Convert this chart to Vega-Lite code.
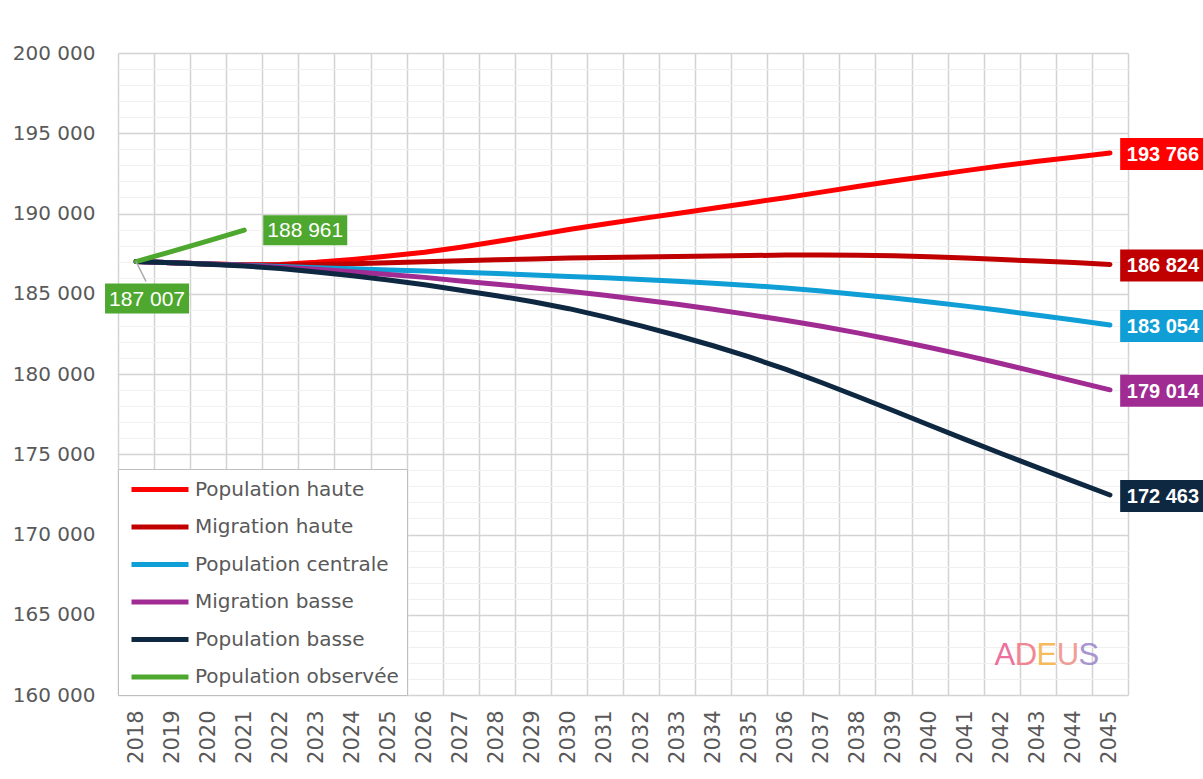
{
  "$schema": "https://vega.github.io/schema/vega-lite/v6.json",
  "autosize": {"type": "none"},
  "padding": {"left": 118, "top": 53, "right": 75, "bottom": 84},
  "width": 1010,
  "height": 642,
  "background": "white",
  "config": {
    "view": {"stroke": null},
    "locale": {"number": {"decimal": ",", "thousands": " ", "grouping": [3], "currency": ["", " €"]}},
    "axis": {"domain": false, "ticks": false, "title": null, "labelColor": "#595959", "labelFont": "DejaVu Sans"}
  },
  "datasets": {
    "pop": [
      {"series": "Population haute", "year": 2018, "value": 187007}, {"series": "Population haute", "year": 2019, "value": 186930}, {"series": "Population haute", "year": 2020, "value": 186860}, {"series": "Population haute", "year": 2021, "value": 186800}, {"series": "Population haute", "year": 2022, "value": 186830}, {"series": "Population haute", "year": 2023, "value": 186960}, {"series": "Population haute", "year": 2024, "value": 187140}, {"series": "Population haute", "year": 2025, "value": 187350}, {"series": "Population haute", "year": 2026, "value": 187590}, {"series": "Population haute", "year": 2027, "value": 187900}, {"series": "Population haute", "year": 2028, "value": 188250}, {"series": "Population haute", "year": 2029, "value": 188620}, {"series": "Population haute", "year": 2030, "value": 189000}, {"series": "Population haute", "year": 2031, "value": 189340}, {"series": "Population haute", "year": 2032, "value": 189680}, {"series": "Population haute", "year": 2033, "value": 190000}, {"series": "Population haute", "year": 2034, "value": 190330}, {"series": "Population haute", "year": 2035, "value": 190660}, {"series": "Population haute", "year": 2036, "value": 190980}, {"series": "Population haute", "year": 2037, "value": 191330}, {"series": "Population haute", "year": 2038, "value": 191680}, {"series": "Population haute", "year": 2039, "value": 192020}, {"series": "Population haute", "year": 2040, "value": 192350}, {"series": "Population haute", "year": 2041, "value": 192670}, {"series": "Population haute", "year": 2042, "value": 192970}, {"series": "Population haute", "year": 2043, "value": 193250}, {"series": "Population haute", "year": 2044, "value": 193510}, {"series": "Population haute", "year": 2045, "value": 193766},
      {"series": "Migration haute", "year": 2018, "value": 187007}, {"series": "Migration haute", "year": 2019, "value": 186930}, {"series": "Migration haute", "year": 2020, "value": 186860}, {"series": "Migration haute", "year": 2021, "value": 186800}, {"series": "Migration haute", "year": 2022, "value": 186790}, {"series": "Migration haute", "year": 2023, "value": 186820}, {"series": "Migration haute", "year": 2024, "value": 186870}, {"series": "Migration haute", "year": 2025, "value": 186930}, {"series": "Migration haute", "year": 2026, "value": 187000}, {"series": "Migration haute", "year": 2027, "value": 187060}, {"series": "Migration haute", "year": 2028, "value": 187120}, {"series": "Migration haute", "year": 2029, "value": 187170}, {"series": "Migration haute", "year": 2030, "value": 187220}, {"series": "Migration haute", "year": 2031, "value": 187260}, {"series": "Migration haute", "year": 2032, "value": 187290}, {"series": "Migration haute", "year": 2033, "value": 187320}, {"series": "Migration haute", "year": 2034, "value": 187350}, {"series": "Migration haute", "year": 2035, "value": 187380}, {"series": "Migration haute", "year": 2036, "value": 187410}, {"series": "Migration haute", "year": 2037, "value": 187420}, {"series": "Migration haute", "year": 2038, "value": 187400}, {"series": "Migration haute", "year": 2039, "value": 187360}, {"series": "Migration haute", "year": 2040, "value": 187300}, {"series": "Migration haute", "year": 2041, "value": 187220}, {"series": "Migration haute", "year": 2042, "value": 187130}, {"series": "Migration haute", "year": 2043, "value": 187040}, {"series": "Migration haute", "year": 2044, "value": 186940}, {"series": "Migration haute", "year": 2045, "value": 186824},
      {"series": "Population centrale", "year": 2018, "value": 187007}, {"series": "Population centrale", "year": 2019, "value": 186930}, {"series": "Population centrale", "year": 2020, "value": 186860}, {"series": "Population centrale", "year": 2021, "value": 186780}, {"series": "Population centrale", "year": 2022, "value": 186700}, {"series": "Population centrale", "year": 2023, "value": 186620}, {"series": "Population centrale", "year": 2024, "value": 186550}, {"series": "Population centrale", "year": 2025, "value": 186480}, {"series": "Population centrale", "year": 2026, "value": 186410}, {"series": "Population centrale", "year": 2027, "value": 186340}, {"series": "Population centrale", "year": 2028, "value": 186260}, {"series": "Population centrale", "year": 2029, "value": 186170}, {"series": "Population centrale", "year": 2030, "value": 186080}, {"series": "Population centrale", "year": 2031, "value": 185990}, {"series": "Population centrale", "year": 2032, "value": 185890}, {"series": "Population centrale", "year": 2033, "value": 185780}, {"series": "Population centrale", "year": 2034, "value": 185660}, {"series": "Population centrale", "year": 2035, "value": 185520}, {"series": "Population centrale", "year": 2036, "value": 185360}, {"series": "Population centrale", "year": 2037, "value": 185170}, {"series": "Population centrale", "year": 2038, "value": 184960}, {"series": "Population centrale", "year": 2039, "value": 184730}, {"series": "Population centrale", "year": 2040, "value": 184490}, {"series": "Population centrale", "year": 2041, "value": 184230}, {"series": "Population centrale", "year": 2042, "value": 183950}, {"series": "Population centrale", "year": 2043, "value": 183660}, {"series": "Population centrale", "year": 2044, "value": 183360}, {"series": "Population centrale", "year": 2045, "value": 183054},
      {"series": "Migration basse", "year": 2018, "value": 187007}, {"series": "Migration basse", "year": 2019, "value": 186930}, {"series": "Migration basse", "year": 2020, "value": 186850}, {"series": "Migration basse", "year": 2021, "value": 186760}, {"series": "Migration basse", "year": 2022, "value": 186650}, {"series": "Migration basse", "year": 2023, "value": 186520}, {"series": "Migration basse", "year": 2024, "value": 186370}, {"series": "Migration basse", "year": 2025, "value": 186200}, {"series": "Migration basse", "year": 2026, "value": 186020}, {"series": "Migration basse", "year": 2027, "value": 185800}, {"series": "Migration basse", "year": 2028, "value": 185590}, {"series": "Migration basse", "year": 2029, "value": 185380}, {"series": "Migration basse", "year": 2030, "value": 185150}, {"series": "Migration basse", "year": 2031, "value": 184900}, {"series": "Migration basse", "year": 2032, "value": 184630}, {"series": "Migration basse", "year": 2033, "value": 184340}, {"series": "Migration basse", "year": 2034, "value": 184030}, {"series": "Migration basse", "year": 2035, "value": 183700}, {"series": "Migration basse", "year": 2036, "value": 183350}, {"series": "Migration basse", "year": 2037, "value": 182970}, {"series": "Migration basse", "year": 2038, "value": 182560}, {"series": "Migration basse", "year": 2039, "value": 182120}, {"series": "Migration basse", "year": 2040, "value": 181650}, {"series": "Migration basse", "year": 2041, "value": 181160}, {"series": "Migration basse", "year": 2042, "value": 180640}, {"series": "Migration basse", "year": 2043, "value": 180100}, {"series": "Migration basse", "year": 2044, "value": 179560}, {"series": "Migration basse", "year": 2045, "value": 179014},
      {"series": "Population basse", "year": 2018, "value": 187007}, {"series": "Population basse", "year": 2019, "value": 186930}, {"series": "Population basse", "year": 2020, "value": 186840}, {"series": "Population basse", "year": 2021, "value": 186730}, {"series": "Population basse", "year": 2022, "value": 186570}, {"series": "Population basse", "year": 2023, "value": 186350}, {"series": "Population basse", "year": 2024, "value": 186120}, {"series": "Population basse", "year": 2025, "value": 185860}, {"series": "Population basse", "year": 2026, "value": 185560}, {"series": "Population basse", "year": 2027, "value": 185220}, {"series": "Population basse", "year": 2028, "value": 184880}, {"series": "Population basse", "year": 2029, "value": 184500}, {"series": "Population basse", "year": 2030, "value": 184070}, {"series": "Population basse", "year": 2031, "value": 183560}, {"series": "Population basse", "year": 2032, "value": 183000}, {"series": "Population basse", "year": 2033, "value": 182400}, {"series": "Population basse", "year": 2034, "value": 181760}, {"series": "Population basse", "year": 2035, "value": 181060}, {"series": "Population basse", "year": 2036, "value": 180300}, {"series": "Population basse", "year": 2037, "value": 179470}, {"series": "Population basse", "year": 2038, "value": 178600}, {"series": "Population basse", "year": 2039, "value": 177710}, {"series": "Population basse", "year": 2040, "value": 176810}, {"series": "Population basse", "year": 2041, "value": 175910}, {"series": "Population basse", "year": 2042, "value": 175030}, {"series": "Population basse", "year": 2043, "value": 174170}, {"series": "Population basse", "year": 2044, "value": 173310}, {"series": "Population basse", "year": 2045, "value": 172463},
      {"series": "Population observée", "year": 2018, "value": 187007}, {"series": "Population observée", "year": 2019, "value": 187640}, {"series": "Population observée", "year": 2020, "value": 188300}, {"series": "Population observée", "year": 2021, "value": 188961}
    ]
  },
  "data": {"name": "pop"},
  "encoding": {
    "x": {"field": "year", "type": "ordinal", "bandPosition": 0.5,
      "scale": {"type": "band", "paddingInner": 0, "paddingOuter": 0},
      "axis": {"tickBand": "extent", "grid": true, "gridColor": "#D3D3D3", "gridWidth": 1.5, "labelAngle": 270, "labelFontSize": 21, "labelPadding": 15}},
    "y": {"field": "value", "type": "quantitative",
      "scale": {"domain": [160000, 200000], "nice": false, "zero": false},
      "axis": {"values": [160000,161000,162000,163000,164000,165000,166000,167000,168000,169000,170000,171000,172000,173000,174000,175000,176000,177000,178000,179000,180000,181000,182000,183000,184000,185000,186000,187000,188000,189000,190000,191000,192000,193000,194000,195000,196000,197000,198000,199000,200000],
        "labelExpr": "datum.value % 5000 === 0 ? format(datum.value, ',d') : ''",
        "labelFontSize": 20, "labelPadding": 23,
        "grid": true,
        "gridColor": {"condition": {"test": "datum.value % 5000 === 0", "value": "#D3D3D3"}, "value": "#F0F0F0"},
        "gridWidth": {"condition": {"test": "datum.value % 5000 === 0", "value": 1.5}, "value": 1}}}
  },
  "layer": [
    {
      "mark": {"type": "line", "strokeWidth": 5, "strokeCap": "round", "strokeJoin": "round"},
      "encoding": {
        "color": {"field": "series", "type": "nominal",
          "scale": {"domain": ["Population haute", "Migration haute", "Population centrale", "Migration basse", "Population basse", "Population observée"],
                    "range": ["#FF0000", "#C00000", "#0F9ED5", "#A02B93", "#0E2841", "#4EA72E"]},
          "legend": {"title": null, "orient": "bottom-left", "offset": 0, "padding": 8,
            "strokeColor": "#BFBFBF", "fillColor": "white",
            "labelFont": "DejaVu Sans", "labelFontSize": 20, "labelColor": "#595959",
            "symbolType": "M-0.7,0L5.0,0", "symbolSize": 400, "symbolStrokeWidth": 5,
            "labelOffset": 44, "rowPadding": 14.5, "labelLimit": 400}}
      }
    },
    {
      "transform": [{"filter": "datum.series === 'Population observée' && datum.year === 2018"}],
      "mark": {"type": "rule", "color": "#A6A6A6", "strokeWidth": 1.5, "x2Offset": 10, "y2Offset": 20},
      "encoding": {"x2": {"field": "year"}, "y2": {"field": "value"}}
    },
    {
      "transform": [{"filter": "datum.series === 'Population observée' && datum.year === 2018"}],
      "mark": {"type": "point", "filled": true, "opacity": 1, "shape": "M-2.8,-1L2.8,-1L2.8,1L-2.8,1Z", "size": 900, "xOffset": 11, "yOffset": 37, "color": "#4EA72E", "strokeWidth": 0}
    },
    {
      "transform": [{"filter": "datum.series === 'Population observée' && datum.year === 2018"}],
      "mark": {"type": "text", "font": "Liberation Sans", "fontSize": 21, "color": "white", "align": "center", "baseline": "middle", "xOffset": 11, "yOffset": 38},
      "encoding": {"text": {"field": "value", "type": "quantitative", "format": ",d"}}
    },
    {
      "transform": [{"filter": "datum.series === 'Population observée' && datum.year === 2021"}],
      "mark": {"type": "point", "filled": true, "opacity": 1, "shape": "M-2.8,-1L2.8,-1L2.8,1L-2.8,1Z", "size": 900, "xOffset": 61, "yOffset": 0, "color": "#4EA72E", "strokeWidth": 0}
    },
    {
      "transform": [{"filter": "datum.series === 'Population observée' && datum.year === 2021"}],
      "mark": {"type": "text", "font": "Liberation Sans", "fontSize": 21, "color": "white", "align": "center", "baseline": "middle", "xOffset": 61, "yOffset": 1},
      "encoding": {"text": {"field": "value", "type": "quantitative", "format": ",d"}}
    },
    {
      "transform": [{"filter": "datum.series !== 'Population observée' && datum.year === 2045"}],
      "mark": {"type": "point", "filled": true, "opacity": 1, "shape": "M-2.8,-1L2.8,-1L2.8,1L-2.8,1Z", "size": 1024, "xOffset": 55, "yOffset": 1, "strokeWidth": 0},
      "encoding": {"fill": {"field": "series", "type": "nominal", "legend": null,
        "scale": {"domain": ["Population haute", "Migration haute", "Population centrale", "Migration basse", "Population basse"],
                  "range": ["#FF0000", "#C00000", "#0F9ED5", "#A02B93", "#0E2841"]}}}
    },
    {
      "transform": [{"filter": "datum.series !== 'Population observée' && datum.year === 2045"}],
      "mark": {"type": "text", "font": "Liberation Sans", "fontSize": 20, "fontWeight": "bold", "color": "white", "align": "center", "baseline": "middle", "xOffset": 53, "yOffset": 2},
      "encoding": {"text": {"field": "value", "type": "quantitative", "format": ",d"}}
    },
    {
      "transform": [{"filter": "datum.series === 'Population basse' && datum.year === 2043"}],
      "encoding": {"y": {"datum": 162400}},
      "layer": [
        {"mark": {"type": "text", "text": "A", "font": "Liberation Sans", "fontSize": 31, "align": "center", "baseline": "middle", "xOffset": -33, "color": "#E8588C", "opacity": 0.85}},
        {"mark": {"type": "text", "text": "D", "font": "Liberation Sans", "fontSize": 31, "align": "center", "baseline": "middle", "xOffset": -12, "color": "#EE7482", "opacity": 0.85}},
        {"mark": {"type": "text", "text": "E", "font": "Liberation Sans", "fontSize": 31, "align": "center", "baseline": "middle", "xOffset": 9, "color": "#F4B040", "opacity": 0.85}},
        {"mark": {"type": "text", "text": "U", "font": "Liberation Sans", "fontSize": 31, "align": "center", "baseline": "middle", "xOffset": 30, "color": "#EE8E86", "opacity": 0.85}},
        {"mark": {"type": "text", "text": "S", "font": "Liberation Sans", "fontSize": 31, "align": "center", "baseline": "middle", "xOffset": 51, "color": "#9A82C8", "opacity": 0.85}}
      ]
    }
  ]
}
